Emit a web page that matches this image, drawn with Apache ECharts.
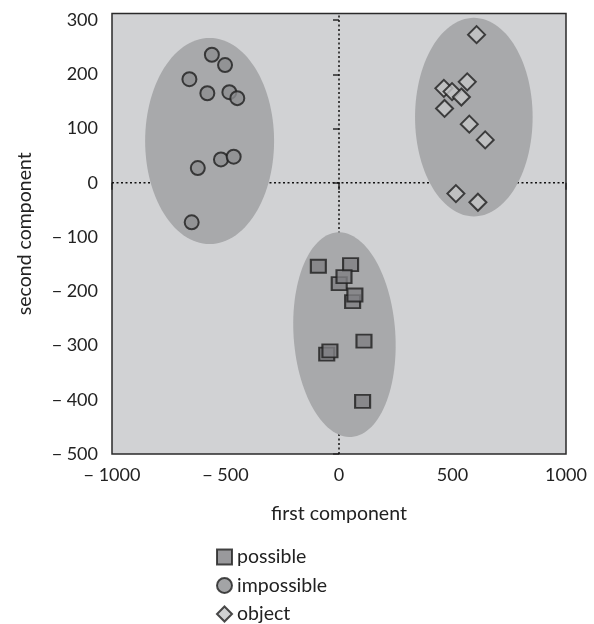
<!DOCTYPE html>
<html>
<head>
<meta charset="utf-8">
<script src="https://cdn.jsdelivr.net/npm/echarts@6/dist/echarts.min.js"></script>
<style>
html,body{margin:0;padding:0;background:#fff;}
#chart{width:594px;height:624px;}
</style>
</head>
<body>
<div id="chart"></div>
<script>
// ---- data ----
const xRange = [-1000, 1000];
const yRange = [-500, 312];
const xTicks = [-1000, -500, 0, 500, 1000];
const yTicks = [-500, -400, -300, -200, -100, 0, 100, 200, 300];

const possiblePts = [
  [-91, -154], [51, -151], [1, -186], [22, -173], [60, -219], [70, -207],
  [110, -292], [-54, -316], [-40, -310], [104, -403]
];
const impossiblePts = [
  [-560, 236], [-502, 217], [-659, 191], [-580, 165], [-483, 167], [-448, 156],
  [-520, 43], [-464, 48], [-622, 27], [-649, -73]
];
const objectPts = [
  [606, 273], [565, 186], [462, 174], [498, 168], [539, 158], [465, 137],
  [574, 108], [644, 79], [515, -20], [612, -36]
];

// cluster ellipses: centre x, centre y, half-width (x units), half-height (y units), tilt (deg)
const ellipseCx = [-570, 594, 24];
const ellipseCy = [77, 121, -280];
const ellipseRx = [284, 259, 224];
const ellipseRy = [190, 183, 189];
const ellipseTilt = [0, 0, 4];

const legendNames = ['possible', 'impossible', 'object'];

// ---- chart ----
const FONT = 'Lato';
const fmt = v => (v < 0 ? '\u2212 ' + Math.abs(v) : String(v));

const ellipseData = ellipseCx.map((cx, i) => [cx, ellipseCy[i], ellipseRx[i], ellipseRy[i], ellipseTilt[i]]);

const chart = echarts.init(document.getElementById('chart'), null, {renderer: 'canvas'});
chart.setOption({
  animation: false,
  backgroundColor: '#ffffff',
  textStyle: {fontFamily: FONT},
  grid: {
    left: 112, top: 13.5, width: 454, height: 440.5,
    show: true, backgroundColor: '#d1d2d4', borderColor: '#2a2a2a', borderWidth: 1.5,
    containLabel: false
  },
  xAxis: {
    type: 'value', min: xRange[0], max: xRange[1], interval: 500,
    name: 'first component', nameLocation: 'middle', nameGap: 50,
    nameTextStyle: {fontFamily: FONT, fontSize: 19.5, color: '#222'},
    axisLine: {show: false},
    axisTick: {show: true, length: 7, customValues: xTicks, lineStyle: {color: '#2a2a2a', width: 1.5}},
    axisLabel: {margin: 12, fontFamily: FONT, fontSize: 18, color: '#222', formatter: fmt, customValues: xTicks},
    splitLine: {show: false}
  },
  yAxis: {
    type: 'value', min: yRange[0], max: yRange[1],
    name: 'second component', nameLocation: 'middle', nameGap: 77,
    nameTextStyle: {fontFamily: FONT, fontSize: 19.5, color: '#222'},
    axisLine: {show: false},
    axisTick: {show: true, length: 6, customValues: yTicks, lineStyle: {color: '#2a2a2a', width: 1.5}},
    axisLabel: {margin: 14, fontFamily: FONT, fontSize: 18, color: '#222', formatter: fmt, customValues: yTicks},
    splitLine: {show: false}
  },
  legend: {
    data: legendNames,
    orient: 'vertical', left: 216, top: 547, height: 110, padding: 0,
    itemWidth: 15, itemHeight: 15, itemGap: 8.5,
    textStyle: {fontFamily: FONT, fontSize: 19.5, color: '#222'},
    selectedMode: false
  },
  series: [
    {
      type: 'line', z: 1, silent: true, symbol: 'none',
      data: [[0, yRange[0]], [0, yRange[1]]],
      lineStyle: {color: '#111', width: 1.5, type: [2, 2.5]}
    },
    {
      type: 'line', z: 1, silent: true, symbol: 'none',
      data: [[xRange[0], 0], [xRange[1], 0]],
      lineStyle: {color: '#111', width: 1.5, type: [2, 2.5]}
    },
    {
      type: 'custom', z: 2, silent: true,
      data: ellipseData,
      encode: {x: 0, y: 1},
      renderItem: function (params, api) {
        const c = api.coord([api.value(0), api.value(1)]);
        const s = api.size([api.value(2), api.value(3)], [api.value(0), api.value(1)]);
        const b = s[0], a = s[1];
        const th = api.value(4) * Math.PI / 180;
        const pts = [];
        for (let k = 0; k < 120; k++) {
          const t = k / 120 * Math.PI * 2;
          pts.push([
            c[0] + a * Math.sin(th) * Math.cos(t) + b * Math.cos(th) * Math.sin(t),
            c[1] + a * Math.cos(th) * Math.cos(t) - b * Math.sin(th) * Math.sin(t)
          ]);
        }
        return {type: 'polygon', shape: {points: pts}, style: {fill: '#a8a9ab'}};
      }
    },
    {
      name: 'possible', type: 'scatter', z: 3, data: possiblePts,
      symbol: 'rect', symbolSize: [15, 13],
      itemStyle: {color: '#7f8083', borderColor: '#1e1e1e', borderWidth: 2}
    },
    {
      name: 'impossible', type: 'scatter', z: 3, data: impossiblePts,
      symbol: 'circle', symbolSize: 14,
      itemStyle: {color: '#8c8d90', borderColor: '#1e1e1e', borderWidth: 2}
    },
    {
      name: 'object', type: 'scatter', z: 3, data: objectPts,
      symbol: 'diamond', symbolSize: 17,
      itemStyle: {color: '#c4c5c7', borderColor: '#1e1e1e', borderWidth: 2}
    }
  ]
});
</script>
</body>
</html>
